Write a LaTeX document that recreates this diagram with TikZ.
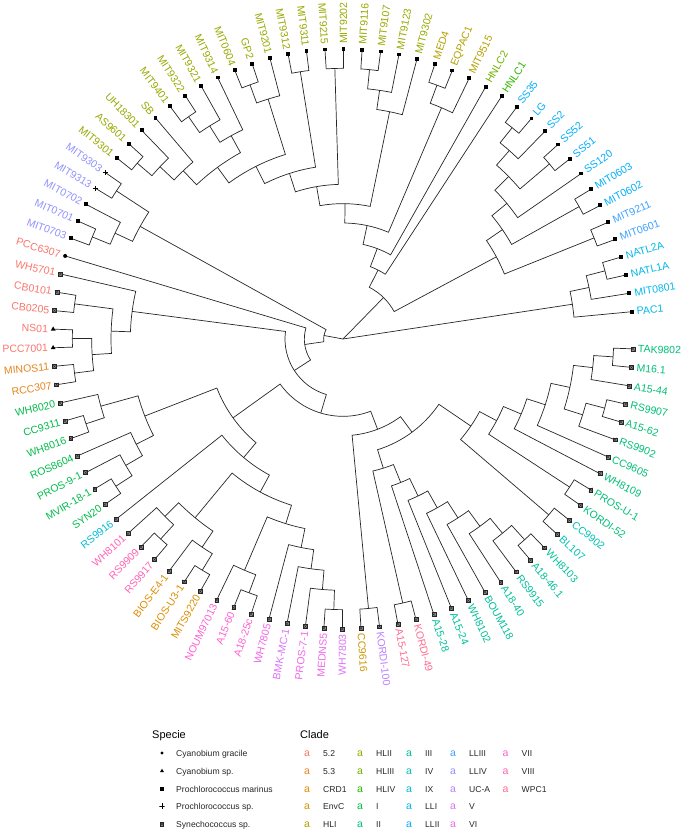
\documentclass[tikz,border=0pt]{standalone}
\usepackage{fontspec}
\setmainfont{Liberation Sans}
\usetikzlibrary{shapes.geometric}

\definecolor{c52}{HTML}{F8766D}
\definecolor{c53}{HTML}{E7851E}
\definecolor{cCRD}{HTML}{DD8D00}
\definecolor{cEnvC}{HTML}{CA9700}
\definecolor{cHLI}{HTML}{B3A000}
\definecolor{cHLII}{HTML}{97A900}
\definecolor{cHLIII}{HTML}{70B000}
\definecolor{cHLIV}{HTML}{2FB600}
\definecolor{cI}{HTML}{00BB4A}
\definecolor{cII}{HTML}{00BF76}
\definecolor{cIII}{HTML}{00C098}
\definecolor{cIV}{HTML}{00C0B5}
\definecolor{cIX}{HTML}{00BDD0}
\definecolor{cLLI}{HTML}{00B7E8}
\definecolor{cLLII}{HTML}{00ADFA}
\definecolor{cLLIII}{HTML}{3CA1FF}
\definecolor{cLLIV}{HTML}{9191FF}
\definecolor{cUCA}{HTML}{BC80FF}
\definecolor{cV}{HTML}{DD71FA}
\definecolor{cVI}{HTML}{F266E7}
\definecolor{cVII}{HTML}{FE61CF}
\definecolor{cVIII}{HTML}{FF63B3}
\definecolor{cWPC}{HTML}{FF6C91}

\pgfdeclarelayer{branches}
\pgfsetlayers{branches,main}

\tikzset{
  branch/.style={line width=0.7pt, black!85},
  tiplab/.style={inner sep=0pt, font=\fontsize{10.5}{12}\selectfont},
  legtitle/.style={inner sep=0pt, anchor=base west, font=\fontsize{11}{13}\selectfont},
  legtxt/.style={inner sep=0pt, anchor=base west, text=black!85, font=\fontsize{8.6}{10}\selectfont},
  legkey/.style={inner sep=0pt, anchor=base, font=\fontsize{10.5}{12}\selectfont},
  pro/.style={rectangle, fill=black, inner sep=0pt, minimum size=3.8pt},
  gra/.style={circle, fill=black, inner sep=0pt, minimum size=4pt},
  cya/.style={regular polygon, regular polygon sides=3, fill=black, inner sep=0pt, minimum size=5.4pt},
  prs/.style={inner sep=0pt, minimum size=5.2pt, path picture={
      \draw[line width=0.55pt] (path picture bounding box.north) -- (path picture bounding box.south)
        (path picture bounding box.west) -- (path picture bounding box.east);}},
  syn/.style={rectangle, draw=black!85, fill=black!45, line width=0.4pt, inner sep=0pt, minimum size=3.9pt,
    path picture={
      \draw[line width=0.35pt, black!85] (path picture bounding box.south west) -- (path picture bounding box.north east)
        (path picture bounding box.north west) -- (path picture bounding box.south east);}}
}

\newcommand\angzero{5.4}
\newcommand\angstep{3.6735}
\newcommand\rtip{290}
\newcommand\rlab{295}
\newcommand\rstep{19.3333}

% leaf: id, position, label, colour, marker
\newcommand\tip[5]{%
  \pgfmathsetmacro\tipang{\angzero+(#2-1)*\angstep}%
  \expandafter\xdef\csname ang@#1\endcsname{\tipang}%
  \coordinate (#1) at (\tipang:\rtip pt);%
  \node[#5] (m#1) at (#1) {};%
  \pgfmathtruncatemacro\isleft{(\tipang>90)&&(\tipang<270)?1:0}%
  \ifnum\isleft=1
    \node[tiplab, text=#4, anchor=east, rotate={\tipang+180}] (l#1) at (\tipang:\rlab pt) {#3};%
  \else
    \node[tiplab, text=#4, anchor=west, rotate=\tipang] (l#1) at (\tipang:\rlab pt) {#3};%
  \fi
}

% inner node: id, level, first child, second child
\newcommand\clade[4]{%
  \pgfmathsetmacro\angA{\csname ang@#3\endcsname}%
  \pgfmathsetmacro\angB{\csname ang@#4\endcsname}%
  \pgfmathsetmacro\angM{(\angA+\angB)/2}%
  \pgfmathsetmacro\crad{#2*\rstep}%
  \expandafter\xdef\csname ang@#1\endcsname{\angM}%
  \coordinate (#1) at (\angM:\crad pt);%
  \begin{pgfonlayer}{branches}
    \draw[branch] (#3) -- (\angA:\crad pt) arc[start angle=\angA, end angle=\angB, radius=\crad pt] -- (#4);
  \end{pgfonlayer}
}

\begin{document}
\begin{tikzpicture}[x=1pt,y=1pt]
  \useasboundingbox (-343,-490) rectangle (342,339);
  \coordinate (root) at (0,0);

  % tips, counter-clockwise from the right
  \tip{PAC1}{1}{PAC1}{cLLI}{pro}
  \tip{MIT0801}{2}{MIT0801}{cLLI}{pro}
  \tip{NATL1A}{3}{NATL1A}{cLLI}{pro}
  \tip{NATL2A}{4}{NATL2A}{cLLI}{pro}
  \tip{MIT0601}{5}{MIT0601}{cLLIII}{pro}
  \tip{MIT9211}{6}{MIT9211}{cLLIII}{pro}
  \tip{MIT0602}{7}{MIT0602}{cLLII}{pro}
  \tip{MIT0603}{8}{MIT0603}{cLLII}{pro}
  \tip{SS120}{9}{SS120}{cLLII}{pro}
  \tip{SS51}{10}{SS51}{cLLII}{pro}
  \tip{SS52}{11}{SS52}{cLLII}{pro}
  \tip{SS2}{12}{SS2}{cLLII}{pro}
  \tip{LG}{13}{LG}{cLLII}{pro}
  \tip{SS35}{14}{SS35}{cLLII}{pro}
  \tip{HNLC1}{15}{HNLC1}{cHLIV}{pro}
  \tip{HNLC2}{16}{HNLC2}{cHLIII}{pro}
  \tip{MIT9515}{17}{MIT9515}{cHLI}{pro}
  \tip{EQPAC1}{18}{EQPAC1}{cHLI}{pro}
  \tip{MED4}{19}{MED4}{cHLI}{pro}
  \tip{MIT9302}{20}{MIT9302}{cHLII}{pro}
  \tip{MIT9123}{21}{MIT9123}{cHLII}{pro}
  \tip{MIT9107}{22}{MIT9107}{cHLII}{pro}
  \tip{MIT9116}{23}{MIT9116}{cHLII}{pro}
  \tip{MIT9202}{24}{MIT9202}{cHLII}{pro}
  \tip{MIT9215}{25}{MIT9215}{cHLII}{pro}
  \tip{MIT9311}{26}{MIT9311}{cHLII}{pro}
  \tip{MIT9312}{27}{MIT9312}{cHLII}{pro}
  \tip{MIT9201}{28}{MIT9201}{cHLII}{pro}
  \tip{GP2}{29}{GP2}{cHLII}{pro}
  \tip{MIT0604}{30}{MIT0604}{cHLII}{pro}
  \tip{MIT9314}{31}{MIT9314}{cHLII}{pro}
  \tip{MIT9321}{32}{MIT9321}{cHLII}{pro}
  \tip{MIT9322}{33}{MIT9322}{cHLII}{pro}
  \tip{MIT9401}{34}{MIT9401}{cHLII}{pro}
  \tip{SB}{35}{SB}{cHLII}{pro}
  \tip{UH18301}{36}{UH18301}{cHLII}{pro}
  \tip{AS9601}{37}{AS9601}{cHLII}{pro}
  \tip{MIT9301}{38}{MIT9301}{cHLII}{pro}
  \tip{MIT9303}{39}{MIT9303}{cLLIV}{prs}
  \tip{MIT9313}{40}{MIT9313}{cLLIV}{prs}
  \tip{MIT0702}{41}{MIT0702}{cLLIV}{pro}
  \tip{MIT0701}{42}{MIT0701}{cLLIV}{pro}
  \tip{MIT0703}{43}{MIT0703}{cLLIV}{pro}
  \tip{PCC6307}{44}{PCC6307}{c52}{gra}
  \tip{WH5701}{45}{WH5701}{c52}{syn}
  \tip{CB0101}{46}{CB0101}{c52}{syn}
  \tip{CB0205}{47}{CB0205}{c52}{syn}
  \tip{NS01}{48}{NS01}{c52}{cya}
  \tip{PCC7001}{49}{PCC7001}{c52}{cya}
  \tip{MINOS11}{50}{MINOS11}{c53}{syn}
  \tip{RCC307}{51}{RCC307}{c53}{syn}
  \tip{WH8020}{52}{WH8020}{cI}{syn}
  \tip{CC9311}{53}{CC9311}{cI}{syn}
  \tip{WH8016}{54}{WH8016}{cI}{syn}
  \tip{ROS8604}{55}{ROS8604}{cI}{syn}
  \tip{PROS91}{56}{PROS-9-1}{cI}{syn}
  \tip{MVIR181}{57}{MVIR-18-1}{cI}{syn}
  \tip{SYN20}{58}{SYN20}{cI}{syn}
  \tip{RS9916}{59}{RS9916}{cIX}{syn}
  \tip{WH8101}{60}{WH8101}{cVIII}{syn}
  \tip{RS9909}{61}{RS9909}{cVIII}{syn}
  \tip{RS9917}{62}{RS9917}{cVIII}{syn}
  \tip{BIOSE41}{63}{BIOS-E4-1}{cCRD}{syn}
  \tip{BIOSU31}{64}{BIOS-U3-1}{cCRD}{syn}
  \tip{MITS9220}{65}{MITS9220}{cCRD}{syn}
  \tip{NOUM97013}{66}{NOUM97013}{cVII}{syn}
  \tip{A1560}{67}{A15-60}{cVII}{syn}
  \tip{A1825c}{68}{A18-25c}{cVII}{syn}
  \tip{WH7805}{69}{WH7805}{cVI}{syn}
  \tip{BMKMC1}{70}{BMK-MC-1}{cV}{syn}
  \tip{PROS71}{71}{PROS-7-1}{cVI}{syn}
  \tip{MEDNS5}{72}{MEDNS5}{cVI}{syn}
  \tip{WH7803}{73}{WH7803}{cV}{syn}
  \tip{CC9616}{74}{CC9616}{cEnvC}{syn}
  \tip{KORDI100}{75}{KORDI-100}{cUCA}{syn}
  \tip{A15127}{76}{A15-127}{cWPC}{syn}
  \tip{KORDI49}{77}{KORDI-49}{cWPC}{syn}
  \tip{A1528}{78}{A15-28}{cIII}{syn}
  \tip{A1524}{79}{A15-24}{cIII}{syn}
  \tip{WH8102}{80}{WH8102}{cIII}{syn}
  \tip{BOUM118}{81}{BOUM118}{cIII}{syn}
  \tip{A1840}{82}{A18-40}{cIII}{syn}
  \tip{RS9915}{83}{RS9915}{cIII}{syn}
  \tip{A18461}{84}{A18-46.1}{cIII}{syn}
  \tip{WH8103}{85}{WH8103}{cIII}{syn}
  \tip{BL107}{86}{BL107}{cIV}{syn}
  \tip{CC9902}{87}{CC9902}{cIV}{syn}
  \tip{KORDI52}{88}{KORDI-52}{cII}{syn}
  \tip{PROSU1}{89}{PROS-U-1}{cII}{syn}
  \tip{WH8109}{90}{WH8109}{cII}{syn}
  \tip{CC9605}{91}{CC9605}{cII}{syn}
  \tip{RS9902}{92}{RS9902}{cII}{syn}
  \tip{A1562}{93}{A15-62}{cII}{syn}
  \tip{RS9907}{94}{RS9907}{cII}{syn}
  \tip{A1544}{95}{A15-44}{cII}{syn}
  \tip{M161}{96}{M16.1}{cII}{syn}
  \tip{TAK9802}{97}{TAK9802}{cII}{syn}

  % LLI
  \clade{nNATL}{14}{NATL1A}{NATL2A}
  \clade{nLLIb}{13}{MIT0801}{nNATL}
  \clade{nLLI}{12}{PAC1}{nLLIb}
  % LLII / LLIII
  \clade{n0601}{14}{MIT0601}{MIT9211}
  \clade{n0602}{14}{MIT0602}{MIT0603}
  \clade{nSSa}{14}{LG}{SS35}
  \clade{nSSb}{13}{SS2}{nSSa}
  \clade{nSSc}{14}{SS51}{SS52}
  \clade{nSSd}{12}{nSSc}{nSSb}
  \clade{nSSe}{11}{SS120}{nSSd}
  \clade{nLLb}{10}{n0602}{nSSe}
  \clade{nLL}{9}{n0601}{nLLb}
  % HLI
  \clade{nHLIa}{14}{EQPAC1}{MED4}
  \clade{nHLI}{13}{MIT9515}{nHLIa}
  % HLII
  \clade{h1}{14}{MIT9107}{MIT9116}
  \clade{h2}{13}{MIT9123}{h1}
  \clade{h3}{12}{MIT9302}{h2}
  \clade{h4}{14}{MIT9202}{MIT9215}
  \clade{h5}{14}{MIT9311}{MIT9312}
  \clade{h6}{14}{GP2}{MIT0604}
  \clade{h7}{13}{MIT9201}{h6}
  \clade{h8}{14}{MIT9322}{MIT9401}
  \clade{h9}{13}{MIT9321}{h8}
  \clade{h10}{12}{MIT9314}{h9}
  \clade{h11}{14}{AS9601}{MIT9301}
  \clade{h12}{13}{UH18301}{h11}
  \clade{h13}{12}{SB}{h12}
  \clade{h14}{11}{h10}{h13}
  \clade{h15}{10}{h7}{h14}
  \clade{h16}{9}{h5}{h15}
  \clade{h17}{8}{h4}{h16}
  \clade{nHLII}{7}{h3}{h17}
  \clade{nHLx}{6}{nHLI}{nHLII}
  \clade{nHLy}{5}{HNLC2}{nHLx}
  \clade{nHL}{4}{HNLC1}{nHLy}
  \clade{nA}{3}{nLL}{nHL}
  % LLIV
  \clade{v1}{14}{MIT9303}{MIT9313}
  \clade{v2}{14}{MIT0701}{MIT0703}
  \clade{v3}{13}{MIT0702}{v2}
  \clade{nLLIV}{12}{v1}{v3}
  % 5.2 / 5.3
  \clade{s1}{14}{CB0101}{CB0205}
  \clade{s2}{14}{NS01}{PCC7001}
  \clade{s3}{14}{MINOS11}{RCC307}
  \clade{s4}{13}{s2}{s3}
  \clade{s5}{12}{s1}{s4}
  \clade{nS52}{11}{WH5701}{s5}
  % clade I
  \clade{i1}{14}{CC9311}{WH8016}
  \clade{i2}{13}{WH8020}{i1}
  \clade{i3}{14}{MVIR181}{SYN20}
  \clade{i4}{13}{PROS91}{i3}
  \clade{i5}{12}{ROS8604}{i4}
  \clade{nI}{11}{i2}{i5}
  % VIII, CRD1, VII, V/VI
  \clade{e1}{14}{RS9909}{RS9917}
  \clade{nVIII}{13}{WH8101}{e1}
  \clade{c1}{14}{BIOSU31}{MITS9220}
  \clade{nCRD}{13}{BIOSE41}{c1}
  \clade{nX}{12}{nVIII}{nCRD}
  \clade{g1}{14}{A1560}{A1825c}
  \clade{nVII}{13}{NOUM97013}{g1}
  \clade{f1}{14}{MEDNS5}{WH7803}
  \clade{f2}{13}{PROS71}{f1}
  \clade{f3}{12}{BMKMC1}{f2}
  \clade{nVVI}{11}{WH7805}{f3}
  \clade{nW}{10}{nVII}{nVVI}
  \clade{nZ}{9}{nX}{nW}
  \clade{nY}{8}{RS9916}{nZ}
  \clade{nP1}{7}{nI}{nY}
  % UC-A, WPC1, III
  \clade{nUCA}{14}{CC9616}{KORDI100}
  \clade{nWPC}{14}{A15127}{KORDI49}
  \clade{t1}{14}{A18461}{WH8103}
  \clade{t2}{13}{RS9915}{t1}
  \clade{t3}{12}{A1840}{t2}
  \clade{t4}{11}{BOUM118}{t3}
  \clade{t5}{10}{WH8102}{t4}
  \clade{t6}{9}{A1524}{t5}
  \clade{nIII}{8}{A1528}{t6}
  \clade{nR}{7}{nWPC}{nIII}
  % IV, II
  \clade{nIV}{14}{BL107}{CC9902}
  \clade{k1}{14}{KORDI52}{PROSU1}
  \clade{k2}{14}{A1562}{RS9907}
  \clade{k3}{13}{RS9902}{k2}
  \clade{k4}{14}{M161}{TAK9802}
  \clade{k5}{13}{A1544}{k4}
  \clade{k6}{12}{k3}{k5}
  \clade{k7}{11}{CC9605}{k6}
  \clade{k8}{10}{WH8109}{k7}
  \clade{nT}{9}{k1}{k8}
  \clade{nS}{8}{nIV}{nT}
  \clade{nQ}{6}{nR}{nS}
  \clade{nP2}{5}{nUCA}{nQ}
  \clade{nP}{4}{nP1}{nP2}
  \clade{nN}{3}{nS52}{nP}
  \clade{nM}{2}{PCC6307}{nN}
  \clade{nL}{1}{nLLIV}{nM}

  \begin{pgfonlayer}{branches}
    \draw[branch] (root) -- (nLLI);
    \draw[branch] (root) -- (nA);
    \draw[branch] (root) -- (nL);
  \end{pgfonlayer}

  % legend
  \node[legtitle] (tSpecie) at (-191,-399) {Specie};
  \node[legtitle] (tClade) at (-43,-399) {Clade};

  \node[gra, minimum size=3.2pt] (kGra) at (-181,-414) {};
  \node[legtxt] (tGra) at (-167,-417) {Cyanobium gracile};
  \node[cya, minimum size=4.6pt] (kCya) at (-181,-432) {};
  \node[legtxt] (tCya) at (-167,-435) {Cyanobium sp.};
  \node[pro, minimum size=3.2pt] (kPro) at (-181,-450) {};
  \node[legtxt] (tPro) at (-167,-453) {Prochlorococcus marinus};
  \node[prs] (kPrs) at (-181,-467) {};
  \node[legtxt] (tPrs) at (-167,-470) {Prochlorococcus sp.};
  \node[syn, minimum size=3.4pt] (kSyn) at (-181,-485) {};
  \node[legtxt] (tSyn) at (-167,-488) {Synechococcus sp.};

  \node[legkey, text=c52] (k52) at (-36,-417) {a};
  \node[legtxt] (t52) at (-20,-417) {5.2};
  \node[legkey, text=c53] (k53) at (-36,-435) {a};
  \node[legtxt] (t53) at (-20,-435) {5.3};
  \node[legkey, text=cCRD] (kCRD) at (-36,-453) {a};
  \node[legtxt] (tCRD) at (-20,-453) {CRD1};
  \node[legkey, text=cEnvC] (kEnvC) at (-36,-470) {a};
  \node[legtxt] (tEnvC) at (-20,-470) {EnvC};
  \node[legkey, text=cHLI] (kHLI) at (-36,-488) {a};
  \node[legtxt] (tHLI) at (-20,-488) {HLI};

  \node[legkey, text=cHLII] (kHLII) at (17,-417) {a};
  \node[legtxt] (tHLII) at (33,-417) {HLII};
  \node[legkey, text=cHLIII] (kHLIII) at (17,-435) {a};
  \node[legtxt] (tHLIII) at (33,-435) {HLIII};
  \node[legkey, text=cHLIV] (kHLIV) at (17,-453) {a};
  \node[legtxt] (tHLIV) at (33,-453) {HLIV};
  \node[legkey, text=cI] (kI) at (17,-470) {a};
  \node[legtxt] (tI) at (33,-470) {I};
  \node[legkey, text=cII] (kII) at (17,-488) {a};
  \node[legtxt] (tII) at (33,-488) {II};

  \node[legkey, text=cIII] (kIII) at (66,-417) {a};
  \node[legtxt] (tIII) at (82,-417) {III};
  \node[legkey, text=cIV] (kIV) at (66,-435) {a};
  \node[legtxt] (tIV) at (82,-435) {IV};
  \node[legkey, text=cIX] (kIX) at (66,-453) {a};
  \node[legtxt] (tIX) at (82,-453) {IX};
  \node[legkey, text=cLLI] (kLLI) at (66,-470) {a};
  \node[legtxt] (tLLI) at (82,-470) {LLI};
  \node[legkey, text=cLLII] (kLLII) at (66,-488) {a};
  \node[legtxt] (tLLII) at (82,-488) {LLII};

  \node[legkey, text=cLLIII] (kLLIII) at (110,-417) {a};
  \node[legtxt] (tLLIII) at (126,-417) {LLIII};
  \node[legkey, text=cLLIV] (kLLIV) at (110,-435) {a};
  \node[legtxt] (tLLIV) at (126,-435) {LLIV};
  \node[legkey, text=cUCA] (kUCA) at (110,-453) {a};
  \node[legtxt] (tUCA) at (126,-453) {UC-A};
  \node[legkey, text=cV] (kV) at (110,-470) {a};
  \node[legtxt] (tV) at (126,-470) {V};
  \node[legkey, text=cVI] (kVI) at (110,-488) {a};
  \node[legtxt] (tVI) at (126,-488) {VI};

  \node[legkey, text=cVII] (kVII) at (162.5,-417) {a};
  \node[legtxt] (tVII) at (178.5,-417) {VII};
  \node[legkey, text=cVIII] (kVIII) at (162.5,-435) {a};
  \node[legtxt] (tVIII) at (178.5,-435) {VIII};
  \node[legkey, text=cWPC] (kWPC) at (162.5,-453) {a};
  \node[legtxt] (tWPC) at (178.5,-453) {WPC1};
\end{tikzpicture}
\end{document}
